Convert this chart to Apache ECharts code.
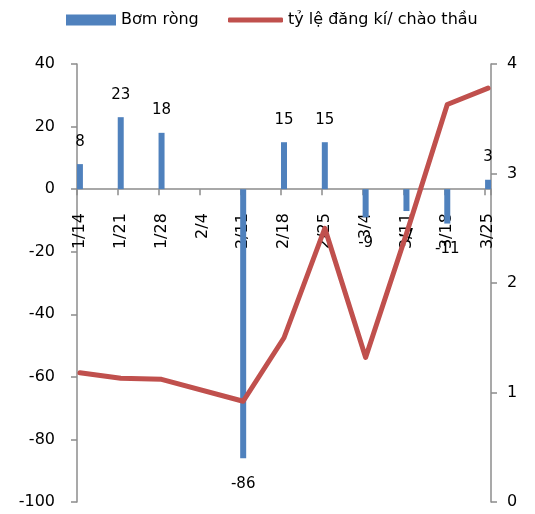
<!DOCTYPE html>
<html><head><meta charset="utf-8">
<script src="https://cdn.jsdelivr.net/npm/echarts@6/dist/echarts.min.js"></script>
<style>html,body{margin:0;padding:0;background:#fff}#c{width:535px;height:514px}</style>
</head><body><div id="c"></div>
<script>
// Weekly auction dates (one slot per day on the axis, 1/14 .. 3/25)
const categories = ['1/14','1/21','1/28','2/4','2/11','2/18','2/25','3/4','3/11','3/18','3/25'];
const netInjection = [8, 23, 18, null, -86, 15, 15, -9, -7, -11, 3];
const bidRatio = [1.18, 1.13, 1.12, null, 0.92, 1.50, 2.50, 1.32, 2.45, 3.63, 3.78];
const leftTicks = {min: -100, max: 40, interval: 20};
const rightTicks = {min: 0, max: 4, interval: 1};
const barName = 'Bơm ròng';
const lineName = 'tỷ lệ đăng kí/ chào thầu';

const DAYS_PER_WEEK = 7;
const nSlots = (categories.length - 1) * DAYS_PER_WEEK + 1;
const axisData = [];
for (let k = 0; k < nSlots; k++) {
  axisData.push(k % DAYS_PER_WEEK === 0 ? categories[k / DAYS_PER_WEEK] : 'd' + k);
}
const barData = new Array(nSlots).fill('-');
const lineData = new Array(nSlots).fill('-');
categories.forEach((c, i) => {
  const v = netInjection[i];
  if (v !== null) {
    barData[i * DAYS_PER_WEEK] = {
      value: v,
      label: v >= 0 ? {position: 'top', distance: 15} : {position: 'bottom', distance: 18}
    };
  }
  if (bidRatio[i] !== null) lineData[i * DAYS_PER_WEEK] = bidRatio[i];
});

const W = 535, H = 514;
const G = {left: 77, right: 44, top: 64, bottom: 12};
const gridH = H - G.top - G.bottom;
// shift category axis up from the grid bottom to the left axis' zero line
const zeroOffset = -gridH * (0 - leftTicks.min) / (leftTicks.max - leftTicks.min);

const FONT = 'DejaVu Sans';
const axisCol = '#8c8c8c';
const chart = echarts.init(document.getElementById('c'));
chart.setOption({
  animation: false,
  textStyle: {fontFamily: FONT},
  legend: [
    {data: [barName], left: 61, top: 7, itemWidth: 50, itemHeight: 11, icon: 'rect',
     itemStyle: {color: '#4F81BD', borderWidth: 0, decal: 'none'},
     textStyle: {fontFamily: FONT, fontSize: 16, color: '#000'}},
    {data: [lineName], left: 223, top: 7, itemWidth: 55, itemHeight: 5, icon: 'roundRect',
     itemStyle: {color: '#C0504D', borderWidth: 0},
     textStyle: {fontFamily: FONT, fontSize: 16, color: '#000'}}
  ],
  grid: Object.assign({containLabel: false, outerBoundsMode: 'none'}, G),
  xAxis: {
    type: 'category', data: axisData, boundaryGap: true, position: 'bottom', offset: zeroOffset,
    axisLine: {onZero: false, lineStyle: {color: axisCol, width: 1.5}},
    axisTick: {show: true, length: 6, interval: (i) => i % DAYS_PER_WEEK === 0, lineStyle: {color: axisCol, width: 1.5}},
    axisLabel: {interval: (i) => i % DAYS_PER_WEEK === 0, rotate: 90, margin: 24,
      fontFamily: FONT, fontSize: 16, color: '#000'},
    splitLine: {show: false}
  },
  yAxis: [
    {type: 'value', min: leftTicks.min, max: leftTicks.max, interval: leftTicks.interval,
     axisLine: {show: true, onZero: false, lineStyle: {color: axisCol, width: 1.5}},
     axisTick: {show: true, length: 6, lineStyle: {color: axisCol, width: 1.5}},
     axisLabel: {margin: 22, fontFamily: FONT, fontSize: 16, color: '#000'},
     splitLine: {show: false}},
    {type: 'value', position: 'right', min: rightTicks.min, max: rightTicks.max, interval: rightTicks.interval,
     axisLine: {show: true, onZero: false, lineStyle: {color: axisCol, width: 1.5}},
     axisTick: {show: true, length: 6, lineStyle: {color: axisCol, width: 1.5}},
     axisLabel: {margin: 16, fontFamily: FONT, fontSize: 16, color: '#000'},
     splitLine: {show: false}}
  ],
  series: [
    {name: barName, type: 'bar', yAxisIndex: 0, data: barData, barWidth: 6,
     itemStyle: {color: '#4F81BD'},
     label: {show: true, fontFamily: FONT, fontSize: 15, color: '#000'}},
    {name: lineName, type: 'line', yAxisIndex: 1, data: lineData, connectNulls: true,
     showSymbol: false, symbol: 'none', color: '#C0504D',
     itemStyle: {color: '#C0504D'},
     lineStyle: {color: '#C0504D', width: 5, join: 'round', cap: 'round'}, z: 3}
  ]
});
</script></body></html>
